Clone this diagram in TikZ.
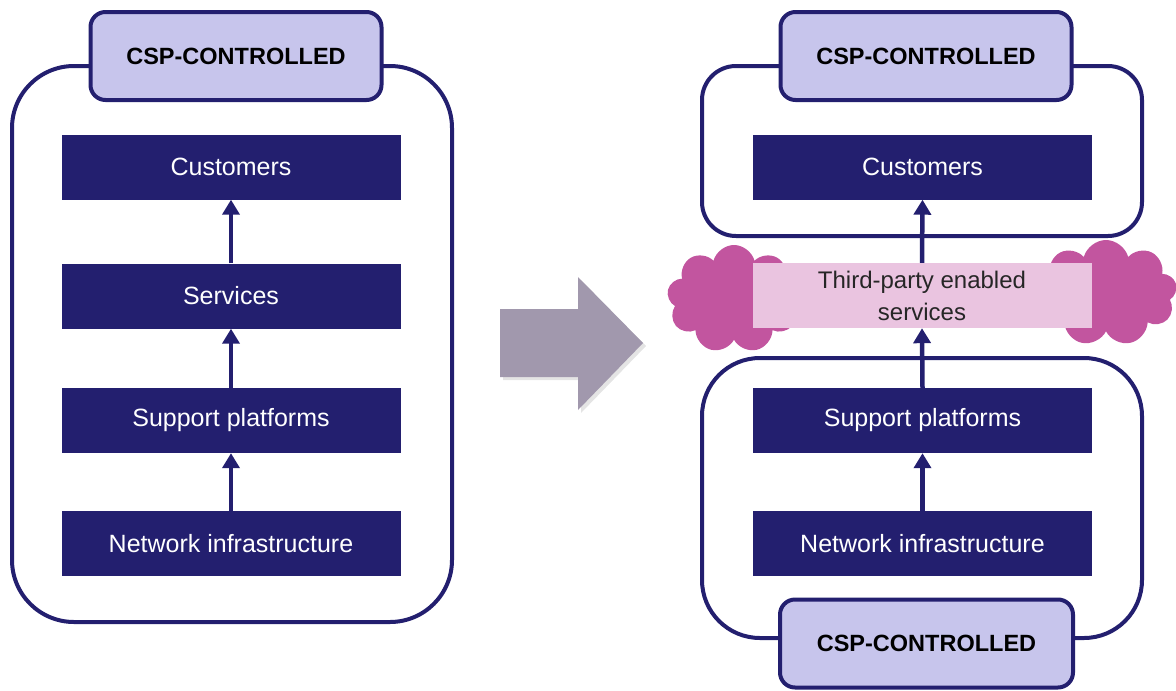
\documentclass[tikz,border=0pt]{standalone}
\usepackage{fontspec}
\setmainfont{Liberation Sans}
\usetikzlibrary{arrows.meta,shapes.symbols}
\definecolor{navy}{HTML}{231F6F}
\definecolor{lav}{HTML}{C7C5EC}
\definecolor{pinkbox}{HTML}{EAC4E0}
\definecolor{cloudc}{HTML}{C2559F}
\definecolor{bigarrow}{HTML}{A198AD}
\tikzset{
  layer/.style={fill=navy, text=white, minimum width=339pt, minimum height=65pt, inner sep=0pt, font=\fontsize{25}{29}\selectfont},
  csp/.style={draw=navy, line width=4pt, fill=lav, rounded corners=15pt, minimum width=291pt, minimum height=88pt, inner sep=0pt, font=\bfseries\fontsize{23.5}{27}\selectfont},
  container/.style={draw=navy, line width=4pt},
  up/.style={draw=navy, line width=4.5pt, -{Triangle[width=17pt,length=15pt]}},
  cloudy/.style={cloud, cloud puffs=9, cloud puff arc=150, cloud ignores aspect, fill=cloudc, draw=none, inner sep=0pt},
}
\begin{document}
\begin{tikzpicture}[x=1pt,y=-1pt]
\useasboundingbox (0,0) rectangle (1176,691);
% ---------- left ----------
\draw[container, rounded corners=62pt] (12,66) rectangle (452,622);
\node[csp] (lcsp) at (236,56) {CSP-CONTROLLED};
\node[layer] (lcust) at (231,167) {Customers};
\node[layer] (lserv) at (231,296) {Services};
\node[layer] (lsupp) at (231,420.5) {Support platforms};
\node[layer] (lnet) at (231,543.5) {Network infrastructure};
\draw[up] (lserv.north) -- (lcust.south);
\draw[up] (lsupp.north) -- (lserv.south);
\draw[up] (lnet.north) -- (lsupp.south);
% ---------- big arrow ----------
\fill[gray!60, opacity=0.35] (503,312) -- (581,312) -- (581,280) -- (646,346) -- (581,413) -- (581,380) -- (503,380) -- cycle;
\fill[bigarrow] (500,309) -- (578,309) -- (578,277) -- (643,343) -- (578,410) -- (578,377) -- (500,377) -- cycle;
% ---------- right ----------
\draw[container, rounded corners=34pt] (702,66) rectangle (1142,236);
\draw[container, rounded corners=58pt] (702,358) rectangle (1142,638);
\node[csp] (rcsp) at (926,56) {CSP-CONTROLLED};
\node[csp, minimum width=293pt] (rcsp2) at (926.5,643.5) {CSP-CONTROLLED};
\node[cloudy, minimum width=134pt, minimum height=108pt] (cl1) at (734,299) {};
\node[cloudy, minimum width=142pt, minimum height=106pt] (cl2) at (1106,293) {};
\node[layer] (rcust) at (922.5,167) {Customers};
\node[layer, fill=pinkbox, text=black!85, align=center, font=\fontsize{24}{32}\selectfont] (rthird) at (922,295.5) {Third-party enabled\\services};
\node[layer] (rsupp) at (922.5,420.5) {Support platforms};
\node[layer] (rnet) at (922.5,543.5) {Network infrastructure};
\draw[up] (rthird.north) -- (rcust.south);
\draw[up] (rsupp.north) -- (rthird.south);
\draw[up] (rnet.north) -- (rsupp.south);
\end{tikzpicture}
\end{document}
